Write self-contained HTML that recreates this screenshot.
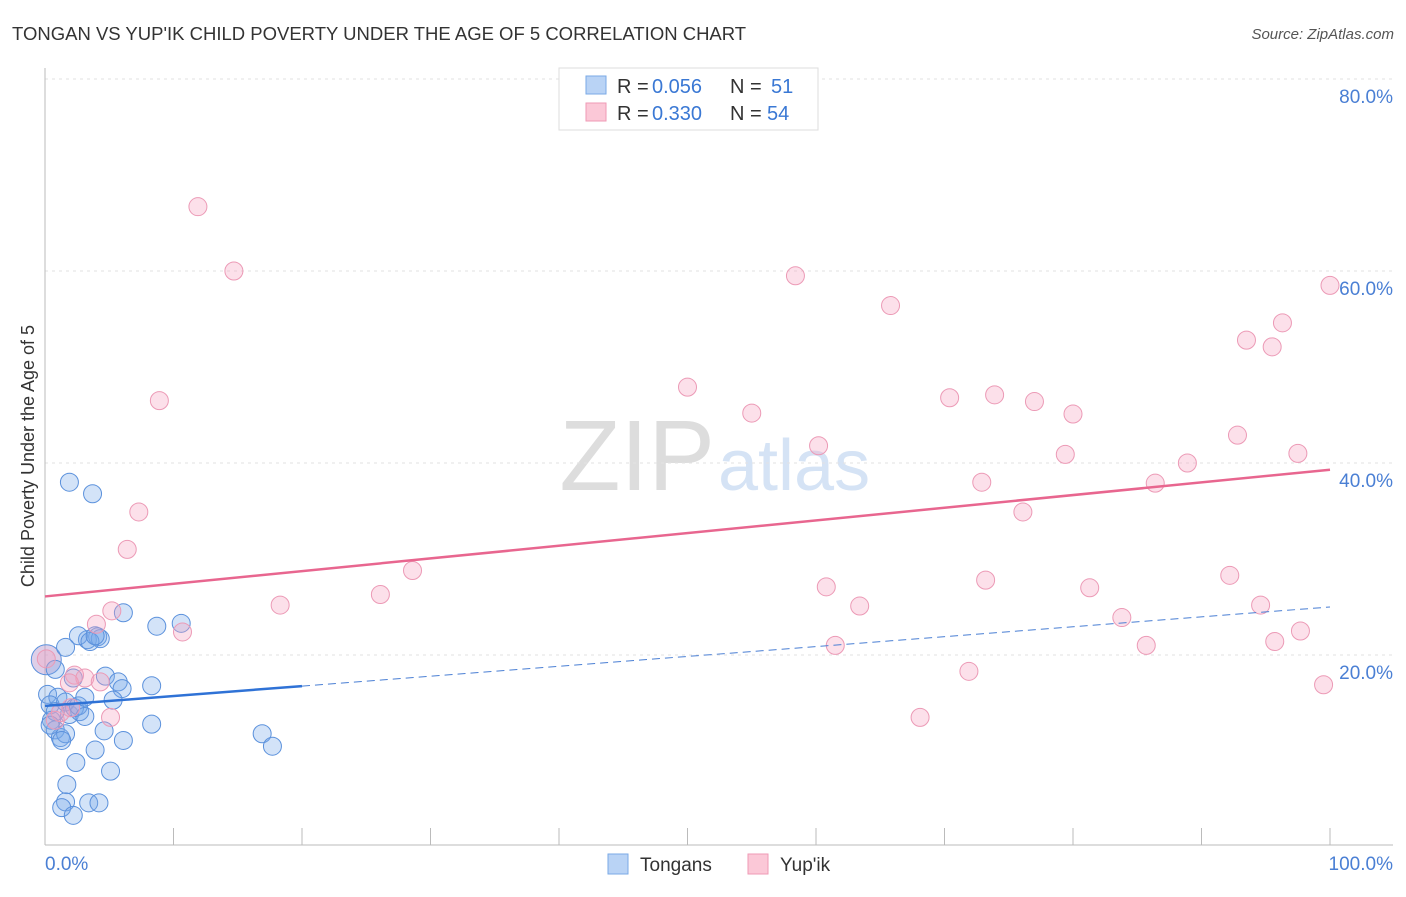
<!DOCTYPE html>
<html><head><meta charset="utf-8">
<style>
body{margin:0;background:#fff;font-family:"Liberation Sans",sans-serif;}
svg text{font-family:"Liberation Sans",sans-serif;}
</style></head>
<body>
<svg id="chart" width="1406" height="892">
<text x="12" y="40" font-size="18.5" fill="#333">TONGAN VS YUP'IK CHILD POVERTY UNDER THE AGE OF 5 CORRELATION CHART</text>
<text x="1394" y="39" font-size="15" fill="#555" font-style="italic" text-anchor="end">Source: ZipAtlas.com</text>
<text x="715" y="490" font-size="100" fill="#ddd" text-anchor="end" font-family="Liberation Serif">ZIP</text>
<text x="718" y="490" font-size="72" fill="#d5e3f5">atlas</text>
<g id="grid"></g>
<g id="axes"></g>
<g id="marks"></g>
<text transform="translate(34,456) rotate(-90)" font-size="18" fill="#333" text-anchor="middle">Child Poverty Under the Age of 5</text>
<g>
<rect x="559" y="68" width="259" height="62" fill="#fff" stroke="#ddd"/>
<rect x="586" y="76" width="20" height="18" fill="#b9d3f5" stroke="#7aa9e6"/>
<rect x="586" y="103" width="20" height="18" fill="#fbc8d7" stroke="#ef9ab5"/>
<text x="617" y="93" font-size="20" fill="#333">R =</text>
<text x="652" y="93" font-size="20" fill="#3a78d4">0.056</text>
<text x="730" y="93" font-size="20" fill="#333">N =</text>
<text x="771" y="93" font-size="20" fill="#3a78d4">51</text>
<text x="617" y="120" font-size="20" fill="#333">R =</text>
<text x="652" y="120" font-size="20" fill="#3a78d4">0.330</text>
<text x="730" y="120" font-size="20" fill="#333">N =</text>
<text x="767" y="120" font-size="20" fill="#3a78d4">54</text>
</g>
<g>
<rect x="608" y="854" width="20" height="20" fill="#b9d3f5" stroke="#7aa9e6"/>
<text x="640" y="871" font-size="19" fill="#333">Tongans</text>
<rect x="748" y="854" width="20" height="20" fill="#fbc8d7" stroke="#ef9ab5"/>
<text x="780" y="871" font-size="19" fill="#333">Yup'ik</text>
</g>
</svg>
<script>
const yTicks=[20,40,60,80];
const yTickLabels=["20.0%","40.0%","60.0%","80.0%"];
const xTicks=[0,10,20,30,40,50,60,70,80,90,100];
const tonganX=[1.9,3.7,0.1,0.8,0.2,1.0,0.4,0.5,0.8,1.2,1.6,1.3,1.9,2.2,2.7,1.6,2.3,2.6,3.1,4.7,5.7,6.0,3.3,2.6,4.1,4.3,1.6,6.1,8.7,10.6,8.3,8.3,4.6,6.1,3.9,2.4,5.1,1.7,1.6,1.3,2.2,3.4,4.2,16.9,17.7,5.3,3.1,0.8,0.4,3.5,3.9];
const tonganY=[38.0,36.8,19.5,18.5,15.9,15.6,14.8,13.2,12.2,11.4,11.8,11.1,13.8,17.6,14.1,15.1,14.5,14.7,15.6,17.8,17.2,16.5,21.6,22.0,21.9,21.7,20.8,24.4,23.0,23.3,16.8,12.8,12.1,11.1,10.1,8.8,7.9,6.5,4.7,4.1,3.3,4.6,4.6,11.8,10.5,15.3,13.6,14.1,12.7,21.4,22.0];
const yupikX=[11.9,14.7,8.9,7.3,6.4,5.2,4.0,10.7,18.3,26.1,28.6,50.0,55.0,60.2,58.4,65.8,70.4,73.9,77.0,80.0,72.9,76.1,79.4,88.9,86.4,93.5,95.5,96.3,92.8,97.5,100.0,60.8,63.4,61.5,71.9,68.1,73.2,81.3,83.8,85.7,92.2,94.6,95.7,97.7,99.5,5.1,2.3,3.1,4.3,1.9,0.8,0.1,1.2,2.0];
const yupikY=[66.7,60.0,46.5,34.9,31.0,24.6,23.2,22.4,25.2,26.3,28.8,47.9,45.2,41.8,59.5,56.4,46.8,47.1,46.4,45.1,38.0,34.9,40.9,40.0,37.9,52.8,52.1,54.6,42.9,41.0,58.5,27.1,25.1,21.0,18.3,13.5,27.8,27.0,23.9,21.0,28.3,25.2,21.4,22.5,16.9,13.5,17.9,17.6,17.2,17.1,13.2,19.6,14.0,14.5];
const tonganTrend=[14.7,25.0];
const yupikTrend=[26.1,39.3];
const NS="http://www.w3.org/2000/svg";
const sx=v=>45+v*12.85, sy=v=>847-v*9.6;
function mk(tag,attrs,parent){const e=document.createElementNS(NS,tag);for(const k in attrs)e.setAttribute(k,attrs[k]);document.getElementById(parent).appendChild(e);return e;}
yTicks.forEach((t,i)=>{
 const l=mk('line',{x1:45,x2:1393,y1:sy(t),y2:sy(t),stroke:'#e2e2e2','stroke-dasharray':'3,4'},'grid');
 
 
 const tx=mk('text',{x:1393,y:sy(t)+24,'font-size':19,fill:'#4a7fd4','text-anchor':'end'},'grid');
 tx.textContent=yTickLabels[i];
 
 
});
const ax=mk('line',{x1:45,x2:1393,y1:845,y2:845,stroke:'#bbb'},'axes');


const ay=mk('line',{x1:45,x2:45,y1:68,y2:845,stroke:'#bbb'},'axes');


xTicks.forEach(t=>{
 const l=mk('line',{x1:sx(t),x2:sx(t),y1:828,y2:845,stroke:'#bbb'},'axes');
 
 
});
let t0=mk('text',{x:45,y:870,'font-size':19,fill:'#4a7fd4'},'axes');t0.textContent='0.0%';


let t1=mk('text',{x:1393,y:870,'font-size':19,fill:'#4a7fd4','text-anchor':'end'},'axes');t1.textContent='100.0%';


tonganX.forEach((x,i)=>{
 const c=mk('circle',{cx:sx(x),cy:sy(tonganY[i]),r:(i==2?15:9),fill:i==2?'rgba(190,160,210,0.5)':'rgba(120,170,235,0.33)',stroke:'#5b91dc','stroke-width':1},'marks');
 
 
});
yupikX.forEach((x,i)=>{
 const c=mk('circle',{cx:sx(x),cy:sy(yupikY[i]),r:9,fill:'rgba(245,160,190,0.33)',stroke:'#ec9ab6','stroke-width':1},'marks');
 
 
});
const py=x=>yupikTrend[0]+(yupikTrend[1]-yupikTrend[0])*x/100;
const by=x=>tonganTrend[0]+(tonganTrend[1]-tonganTrend[0])*x/100;
const l1=mk('line',{x1:sx(0),y1:sy(py(0)),x2:sx(100),y2:sy(py(100)),stroke:'#e8668f','stroke-width':2.5},'marks');


const l2=mk('line',{x1:sx(0),y1:sy(by(0)),x2:sx(20),y2:sy(by(20)),stroke:'#2f72d6','stroke-width':2.5},'marks');


const l3=mk('line',{x1:sx(20),y1:sy(by(20)),x2:sx(100),y2:sy(by(100)),stroke:'#4a7fd4','stroke-width':1,'stroke-dasharray':'8,5'},'marks');


</script>
</body></html>
